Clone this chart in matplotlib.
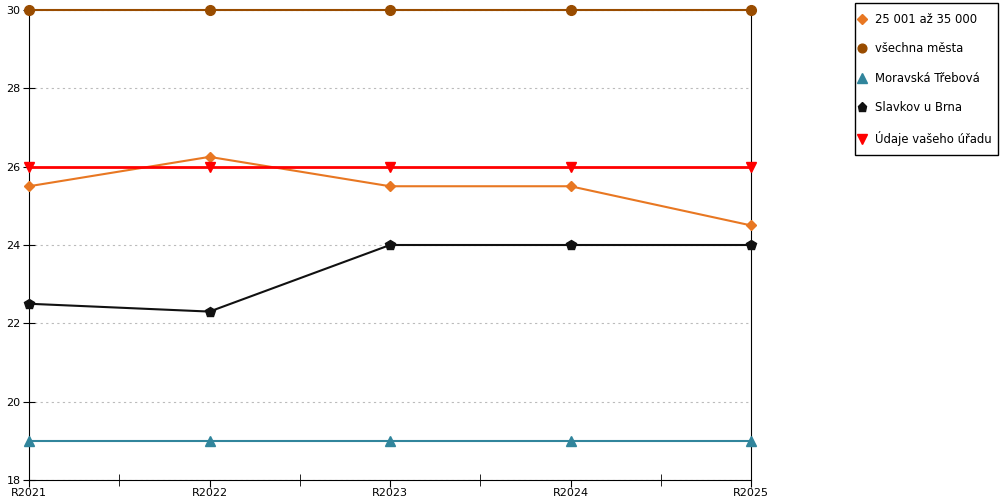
import matplotlib
matplotlib.use("Agg")
import matplotlib.pyplot as plt
from matplotlib.ticker import MultipleLocator, FixedLocator
from matplotlib.patches import Rectangle

categories = ["R2021", "R2022", "R2023", "R2024", "R2025"]
s_25001 = [25.5, 26.25, 25.5, 25.5, 24.5]
s_vsechna = [30, 30, 30, 30, 30]
s_moravska = [19, 19, 19, 19, 19]
s_slavkov = [22.5, 22.3, 24, 24, 24]
s_udaje = [26, 26, 26, 26, 26]

plt.rcParams['font.family'] = ['DejaVu Sans']
fig = plt.figure(figsize=(10, 5), dpi=100)
ax = fig.add_axes([0.029, 0.04, 0.722, 0.94])

x = list(range(len(categories)))
ax.plot(x, s_25001, color="#E87722", marker="D", markersize=5.5, lw=1.5, label="25 001 až 35 000", clip_on=False, zorder=3)
ax.plot(x, s_vsechna, color="#994C00", marker="o", markersize=7, lw=1.5, label="všechna města", clip_on=False, zorder=3)
ax.plot(x, s_moravska, color="#31859C", marker="^", markersize=7.5, lw=1.5, label="Moravská Třebová", clip_on=False, zorder=3)
ax.plot(x, s_slavkov, color="#111111", marker="p", markersize=7.5, lw=1.5, label="Slavkov u Brna", clip_on=False, zorder=3)
ax.plot(x, s_udaje, color="#FF0000", marker="v", markersize=7.5, lw=2, label="Údaje vašeho úřadu", clip_on=False, zorder=3)

ax.set_xlim(0, len(categories) - 1)
ax.set_ylim(18, 30)
ax.yaxis.set_major_locator(MultipleLocator(2))
ax.set_xticks(x)
ax.set_xticklabels(categories)
ax.xaxis.set_minor_locator(FixedLocator([0.5, 1.5, 2.5, 3.5]))
ax.tick_params(axis='x', which='major', direction='out', length=5, labelsize=8, pad=1)
ax.tick_params(axis='x', which='minor', direction='inout', length=8)
ax.tick_params(axis='y', which='major', direction='inout', length=8, labelsize=8, pad=2)
ax.grid(axis='y', color='#BBBBBB', linestyle=(0, (2, 3)), lw=0.8)
ax.set_axisbelow(True)
for side in ['left', 'bottom', 'right']:
    ax.spines[side].set_color('black')
ax.spines['top'].set_visible(False)

fig.patches.append(Rectangle((0.855, 0.69), 0.143, 0.304, transform=fig.transFigure,
                             fill=False, edgecolor='black', lw=1))
leg = fig.legend(loc='upper left', bbox_to_anchor=(0.857, 0.974), frameon=False,
                 fontsize=8.4, handlelength=0.8, handletextpad=0.75, labelspacing=1.41,
                 borderpad=0, borderaxespad=0, markerscale=0.9)
for h in leg.legend_handles:
    h.set_linestyle('None')

fig.savefig("out.png", dpi=100)
